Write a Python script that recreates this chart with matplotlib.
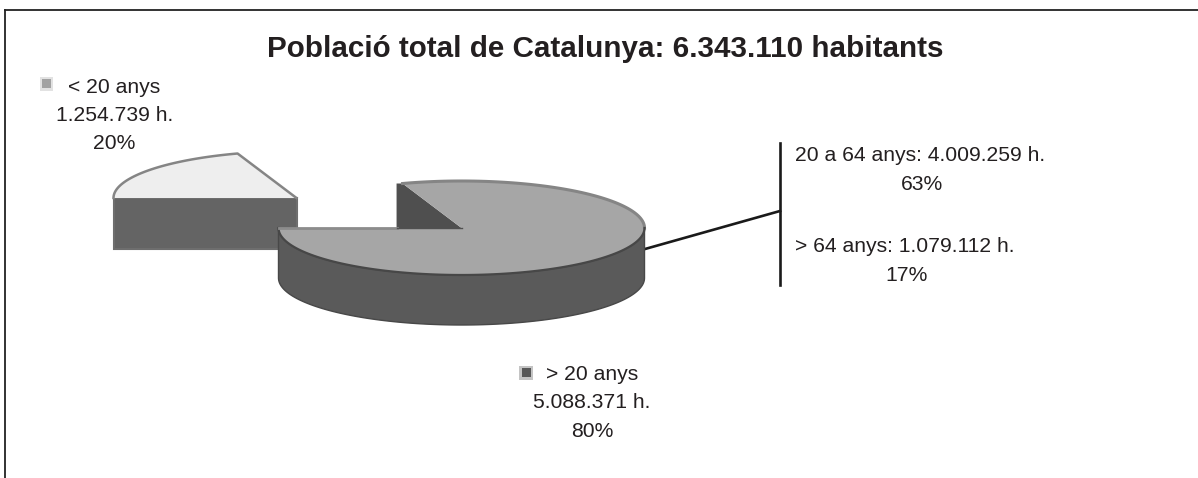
import numpy as np
import matplotlib
matplotlib.use("Agg")
import matplotlib.pyplot as plt
from matplotlib.patches import Polygon, Rectangle

plt.rcParams['font.family'] = ['Liberation Sans', 'DejaVu Sans']

# Data
title = "Població total de Catalunya: 6.343.110 habitants"
group_names = ["< 20 anys", "> 20 anys"]
group_values = [1254739, 5088371]
group_pcts = ["20%", "80%"]
group_hab = ["1.254.739 h.", "5.088.371 h."]
sub_labels = ["20 a 64 anys: 4.009.259 h.", "> 64 anys: 1.079.112 h."]
sub_pcts = ["63%", "17%"]

W, H = 1198, 478
fig = plt.figure(figsize=(W / 100, H / 100), dpi=100)
ax = fig.add_axes([0, 0, 1, 1])
ax.set_xlim(0, W)
ax.set_ylim(H, 0)
ax.axis('off')

# Pie geometry (pixels)
cx, cy, rx, ry, depth = 461.5, 228, 183, 47, 50
off_x, off_y = -165, -30
wall_extra = 6
TOP_MAIN, SIDE_MAIN, WALL = '#a6a6a6', '#5a5a5a', '#4f4f4f'
TOP_SMALL, SIDE_SMALL = '#eeeeee', '#646464'
EDGE = '#858585'

total = sum(group_values)
small_span = 360 * group_values[0] / total
a0 = 180.0                # small slice ends on the left
a1 = a0 - small_span      # and starts here (upper left)


def rim(t, x0, y0):
    t = np.radians(t)
    return np.column_stack([x0 + rx * np.cos(t), y0 - ry * np.sin(t)])


# Main slice: inner wall, front wall, top
p = rim(np.array([a1]), cx, cy)[0]
ax.add_patch(Polygon([(cx, cy), p, (p[0] - wall_extra, p[1]), (p[0] - wall_extra, cy)],
                     fc=WALL, ec='none', zorder=2))
front = rim(np.linspace(180, 360, 120), cx, cy)
ax.add_patch(Polygon(np.vstack([front, (front + (0, depth))[::-1]]), fc=SIDE_MAIN, ec='#484848', lw=1.0, zorder=3))
arc = rim(np.linspace(180, a1 + 360, 300), cx, cy)
ax.add_patch(Polygon(np.vstack([[(cx, cy)], arc]), fc=TOP_MAIN, ec='none', zorder=4))
ax.plot(*rim(np.linspace(360, a1 + 360, 100), cx, cy).T, color=EDGE, lw=2.2, zorder=5)
ax.plot(*rim(np.linspace(180, 360, 100), cx, cy).T, color='#474747', lw=1.6, zorder=5)
ax.plot([cx - rx, p[0] - wall_extra], [cy, cy], color='#8c8c8c', lw=2, zorder=5)
ax.plot([p[0] - wall_extra, cx], [cy, cy], color='#505050', lw=1, zorder=5)

# Exploded slice
sx, sy = cx + off_x, cy + off_y
arc2 = rim(np.linspace(a1, a0, 60), sx, sy)
ax.add_patch(Rectangle((sx - rx, sy), rx, depth + 1, fc=SIDE_SMALL, ec='#6e6e6e', lw=1.5, zorder=1))
ax.add_patch(Polygon(np.vstack([[(sx, sy)], arc2]), fc=TOP_SMALL, ec='none', zorder=2))
ax.plot(*np.vstack([[(sx, sy)], arc2[::-1][::-1]]).T, color=EDGE, lw=1.8, zorder=3)

# Frame: top and left only
ax.plot([5, 5], [H, 10], color='#222222', lw=1.3, zorder=6)
ax.plot([5, W], [10, 10], color='#222222', lw=1.3, zorder=6)

# Leader
ax.plot([645, 780], [249, 211], color='#1a1a1a', lw=1.9, zorder=1)
ax.plot([780, 780], [143, 285], color='#1a1a1a', lw=1.9)

TXT = '#231f20'
FS = 15.2
kw = dict(va='baseline', fontsize=FS, color=TXT)
ax.text(605, 57, title, ha='center', va='baseline', fontsize=21.3, fontweight='bold', color=TXT)

ax.add_patch(Rectangle((39.5, 76.5), 13, 14, fc='#e2e2e2', ec='none'))
ax.add_patch(Rectangle((42, 79), 8.5, 9, fc='#a2a2a2', ec='none'))
ax.text(68, 93, group_names[0], ha='left', **kw)
ax.text(115, 121, group_hab[0], ha='center', **kw)
ax.text(114, 149, group_pcts[0], ha='center', **kw)

ax.add_patch(Rectangle((519, 365.5), 14, 14, fc='#c4c4c4', ec='none'))
ax.add_patch(Rectangle((522, 368), 8.5, 8.5, fc='#585858', ec='none'))
ax.text(546, 380, group_names[1], ha='left', **kw)
ax.text(592, 408, group_hab[1], ha='center', **kw)
ax.text(592, 437, group_pcts[1], ha='center', **kw)

ax.text(795, 161, sub_labels[0], ha='left', **kw)
ax.text(922, 190, sub_pcts[0], ha='center', **kw)
ax.text(795, 252, sub_labels[1], ha='left', **kw)
ax.text(907, 281, sub_pcts[1], ha='center', **kw)

fig.savefig('out.png', dpi=100, facecolor='white')
